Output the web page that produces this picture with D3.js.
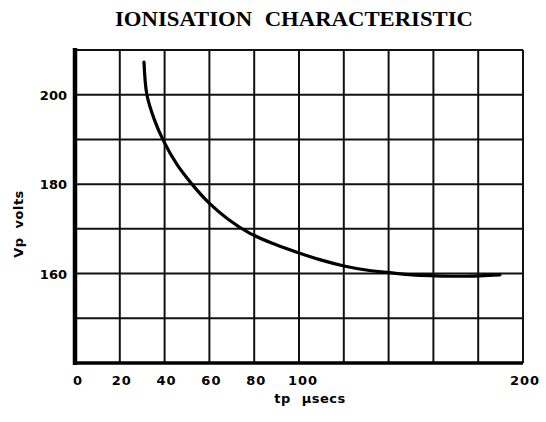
<!DOCTYPE html>
<html>
<head>
<meta charset="utf-8">
<script src="https://cdn.jsdelivr.net/npm/d3@7"></script>
<style>
  body { margin: 0; background: #fff; }
  svg { display: block; }
</style>
</head>
<body>
<div id="chart"></div>
<script>
// curve
const tpValues = [30.8, 32.1, 35.3, 39.3, 45.5, 52.2, 59.8, 68.5, 78.1, 89.0, 100.0, 110.0, 120.1, 130.0, 140.6, 150.5, 160.7, 170.5, 180.8, 189.7];
const vpValues = [207.3, 200.0, 194.6, 189.9, 184.4, 180.0, 175.8, 172.1, 169.0, 166.6, 164.6, 163.0, 161.7, 160.8, 160.2, 159.7, 159.5, 159.4, 159.5, 159.7];

const xTickLabels = [0, 20, 40, 60, 80, 100, 200];
const yTickLabels = [160, 180, 200];
const xGridValues = [0, 20, 40, 60, 80, 100, 120, 140, 160, 180, 200];
const yGridValues = [140, 150, 160, 170, 180, 190, 200, 210];

const width  = 546;
const height = 422;
const margin = {top: 50, right: 23, bottom: 59, left: 75};

const svg = d3.select('#chart')
  .append('svg')
  .attr('width', width)
  .attr('height', height);

const xScale = d3.scaleLinear()
  .domain([0, 200])
  .range([margin.left, width - margin.right]);

const yScale = d3.scaleLinear()
  .domain([140, 210])
  .range([height - margin.bottom, margin.top]);

// title
svg.append('text')
  .attr('x', 115)
  .attr('y', 26)
  .attr('textLength', 358)
  .attr('lengthAdjust', 'spacingAndGlyphs')
  .style('font-family', '"Liberation Serif", "Times New Roman", serif')
  .style('font-weight', 'bold')
  .style('font-size', '20px')
  .style('word-spacing', '6px')
  .text('IONISATION CHARACTERISTIC');

// grid
const grid = svg.append('g').attr('stroke', '#111').attr('stroke-width', 2);

grid.selectAll('.vline')
  .data(xGridValues)
  .enter()
  .append('line')
    .attr('x1', d => xScale(d))
    .attr('x2', d => xScale(d))
    .attr('y1', yScale(210))
    .attr('y2', yScale(140));

grid.selectAll('.hline')
  .data(yGridValues)
  .enter()
  .append('line')
    .attr('x1', xScale(0))
    .attr('x2', xScale(200))
    .attr('y1', d => yScale(d))
    .attr('y2', d => yScale(d));

// heavy axes
svg.append('line')
  .attr('x1', xScale(0)).attr('x2', xScale(0))
  .attr('y1', yScale(210) - 2).attr('y2', yScale(140) + 2)
  .attr('stroke', '#000').attr('stroke-width', 4.5);

svg.append('line')
  .attr('x1', xScale(0) - 2).attr('x2', xScale(200))
  .attr('y1', yScale(140)).attr('y2', yScale(140))
  .attr('stroke', '#000').attr('stroke-width', 3.5);

// tick labels
const tickFont = '"DejaVu Sans", sans-serif';

svg.append('g')
  .selectAll('text')
  .data(xTickLabels)
  .enter()
  .append('text')
    .attr('x', d => xScale(d) + (d === 0 ? 3 : d === 100 ? 4 : 2))
    .attr('y', yScale(140) + 22)
    .attr('text-anchor', 'middle')
    .style('font-family', tickFont)
    .style('font-weight', 'bold')
    .style('font-size', '13px')
    .style('letter-spacing', '1px')
    .text(d => d);

svg.append('g')
  .selectAll('text')
  .data(yTickLabels)
  .enter()
  .append('text')
    .attr('x', xScale(0) - 8)
    .attr('y', d => yScale(d) + 5)
    .attr('text-anchor', 'end')
    .style('font-family', tickFont)
    .style('font-weight', 'bold')
    .style('font-size', '13px')
    .text(d => d);

// axis titles
svg.append('text')
  .attr('x', 310)
  .attr('y', 403)
  .attr('text-anchor', 'middle')
  .style('font-family', tickFont)
  .style('font-weight', 'bold')
  .style('font-size', '13px')
  .style('word-spacing', '6px')
  .style('letter-spacing', '0.5px')
  .text('tp μsecs');

svg.append('text')
  .attr('transform', 'rotate(-90)')
  .attr('x', -224)
  .attr('y', 23)
  .attr('text-anchor', 'middle')
  .style('font-family', tickFont)
  .style('font-weight', 'bold')
  .style('font-size', '13px')
  .style('word-spacing', '4px')
  .style('letter-spacing', '0.5px')
  .text('Vp volts');

// curve
const points = tpValues.map((t, i) => [t, vpValues[i]]);

const line = d3.line()
  .x(d => xScale(d[0]))
  .y(d => yScale(d[1]))
  .curve(d3.curveCatmullRom.alpha(0.5));

svg.append('path')
  .datum(points)
  .attr('d', line)
  .attr('fill', 'none')
  .attr('stroke', '#000')
  .attr('stroke-width', 3.2)
  .attr('stroke-linecap', 'round');
</script>
</body>
</html>
